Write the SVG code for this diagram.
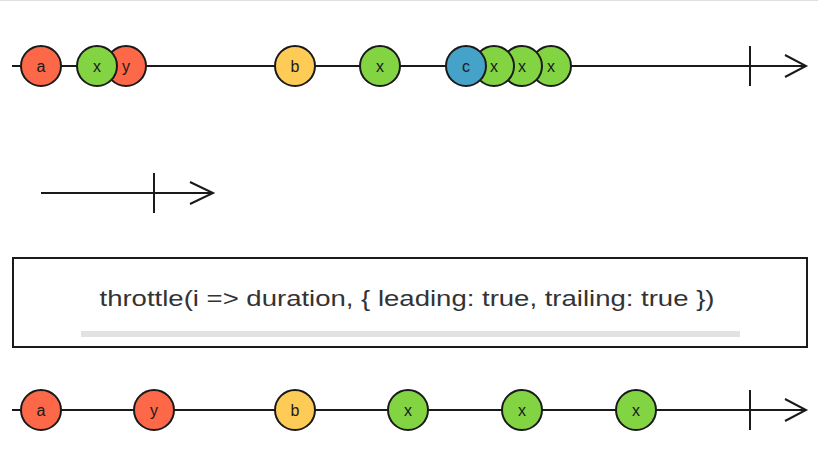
<svg xmlns="http://www.w3.org/2000/svg" width="818" height="473" viewBox="0 0 818 473">
<style>
.line{stroke:#1a1a1a;stroke-width:2;fill:none}
.m{stroke:#1a1a1a;stroke-width:2}
.red{fill:#fd6848}
.green{fill:#82d443}
.yellow{fill:#ffcb57}
.blue{fill:#45a2c9}
.lbl{font-family:"Liberation Sans",Arial,sans-serif;font-size:16px;fill:#1a1a1a;text-anchor:middle;dominant-baseline:central}
.op{font-family:"Liberation Sans",Arial,sans-serif;font-size:22px;fill:#333;text-anchor:middle;dominant-baseline:central}
</style>
<rect x="0" y="0" width="818" height="473" fill="#ffffff"/>
<line x1="0" y1="0.5" x2="818" y2="0.5" stroke="#e0e0e0" stroke-width="1"/>
<g id="connectors">
  <g id="line-input">
    <path class="line" d="M12 66H806M785 55L806 66L785 77M750 46V86"/>
  </g>
  <g id="line-duration">
    <path class="line" d="M41 193H213M190 182L213 193L190 204M154 173V213"/>
  </g>
  <g id="line-output">
    <path class="line" d="M12 410H806M785 399L806 410L785 421M750 390V430"/>
  </g>
</g>
<g id="input-marbles">
  <g id="in-a"><circle class="m red" cx="41" cy="66" r="20"/><text class="lbl" x="41" y="66">a</text></g>
  <g id="in-y"><circle class="m red" cx="126" cy="66" r="20"/><text class="lbl" x="126" y="66">y</text></g>
  <g id="in-x1"><circle class="m green" cx="97" cy="66" r="20"/><text class="lbl" x="97" y="66">x</text></g>
  <g id="in-b"><circle class="m yellow" cx="295" cy="66" r="20"/><text class="lbl" x="295" y="66">b</text></g>
  <g id="in-x2"><circle class="m green" cx="380" cy="66" r="20"/><text class="lbl" x="380" y="66">x</text></g>
  <g id="in-x5"><circle class="m green" cx="551" cy="66" r="20"/><text class="lbl" x="551" y="66">x</text></g>
  <g id="in-x4"><circle class="m green" cx="522" cy="66" r="20"/><text class="lbl" x="522" y="66">x</text></g>
  <g id="in-x3"><circle class="m green" cx="494" cy="66" r="20"/><text class="lbl" x="494" y="66">x</text></g>
  <g id="in-c"><circle class="m blue" cx="466" cy="66" r="20"/><text class="lbl" x="466" y="66">c</text></g>
</g>
<g id="operator">
  <rect x="13" y="258" width="794" height="89" fill="#ffffff" stroke="#1a1a1a" stroke-width="2"/>
  <text class="op" x="407" y="298" textLength="615" lengthAdjust="spacingAndGlyphs">throttle(i =&gt; duration, { leading: true, trailing: true })</text>
  <rect x="81" y="331" width="659" height="6" fill="#e2e2e2"/>
</g>
<g id="output-marbles">
  <g id="out-a"><circle class="m red" cx="41" cy="410" r="20"/><text class="lbl" x="41" y="410">a</text></g>
  <g id="out-y"><circle class="m red" cx="154" cy="410" r="20"/><text class="lbl" x="154" y="410">y</text></g>
  <g id="out-b"><circle class="m yellow" cx="295" cy="410" r="20"/><text class="lbl" x="295" y="410">b</text></g>
  <g id="out-x1"><circle class="m green" cx="408" cy="410" r="20"/><text class="lbl" x="408" y="410">x</text></g>
  <g id="out-x2"><circle class="m green" cx="522" cy="410" r="20"/><text class="lbl" x="522" y="410">x</text></g>
  <g id="out-x3"><circle class="m green" cx="636" cy="410" r="20"/><text class="lbl" x="636" y="410">x</text></g>
</g>
</svg>
